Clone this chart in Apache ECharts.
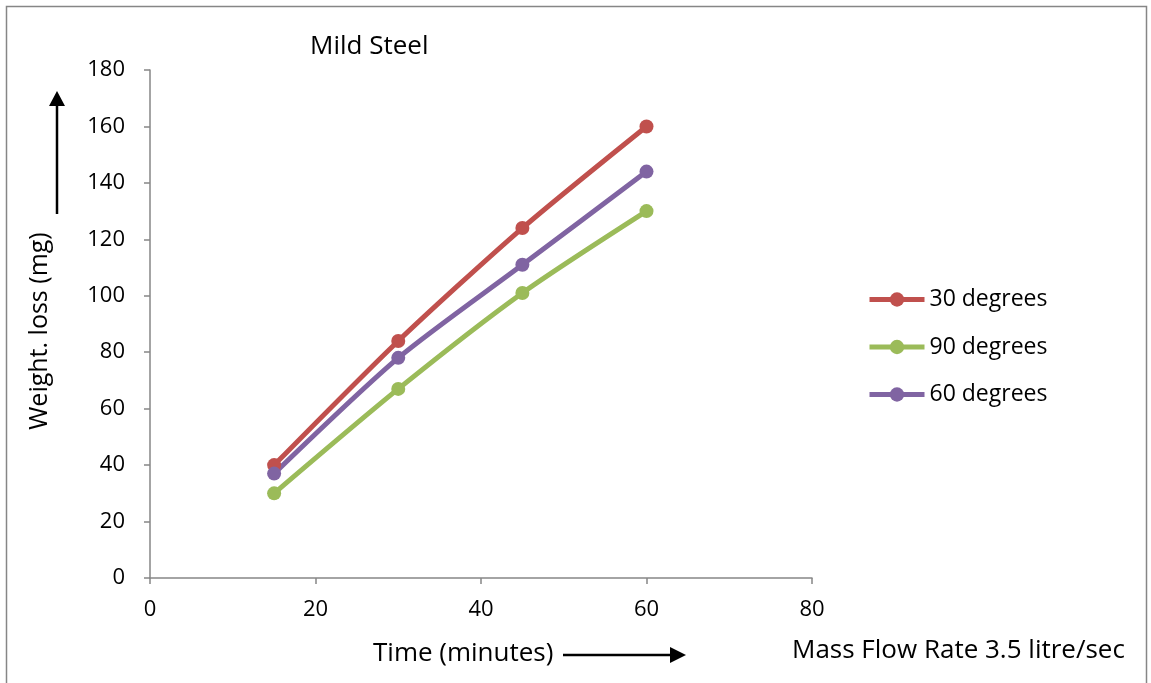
<!DOCTYPE html>
<html><head><meta charset="utf-8">
<script src="https://cdn.jsdelivr.net/npm/echarts@6/dist/echarts.min.js"></script>
<style>html,body{margin:0;padding:0;background:#fff}#c{width:1151px;height:683px}</style>
</head><body><div id="c"></div>
<script>
const xValues = [15, 30, 45, 60];
const seriesNames = ['30 degrees', '90 degrees', '60 degrees'];
const deg30 = [40, 84, 124, 160];
const deg90 = [30, 67, 101, 130];
const deg60 = [37, 78, 111, 144];
const colors = ['#C0504D', '#9BBB59', '#8064A2'];
const values = [deg30, deg90, deg60];
const FONT = 'Open Sans';

function txt(text, x, y, size, extra) {
  return Object.assign({type: 'text', x: x, y: y, silent: true,
    style: {text: text, fill: '#000', fontSize: size, fontFamily: FONT, align: 'left', verticalAlign: 'middle'}}, extra || {});
}

const chart = echarts.init(document.getElementById('c'), null, {renderer: 'canvas'});
const yLabel = txt('Weight. loss (mg)', 40, 331, 25, {rotation: Math.PI / 2});
yLabel.style.align = 'center';
chart.setOption({
  animation: false,
  backgroundColor: '#fff',
  textStyle: {fontFamily: FONT},
  grid: {left: 150, right: 339, top: 70, bottom: 105},
  xAxis: {
    type: 'value', min: 0, max: 80, interval: 20,
    axisLine: {lineStyle: {color: '#868686', width: 1.5}},
    axisTick: {show: true, length: 6, lineStyle: {color: '#868686', width: 1.5}},
    splitLine: {show: false},
    axisLabel: {color: '#000', fontSize: 22, fontFamily: FONT, margin: 21}
  },
  yAxis: {
    type: 'value', min: 0, max: 180, interval: 20,
    axisLine: {show: true, lineStyle: {color: '#868686', width: 1.5}},
    axisTick: {show: true, length: 6, lineStyle: {color: '#868686', width: 1.5}},
    splitLine: {show: false},
    axisLabel: {color: '#000', fontSize: 22, fontFamily: FONT, margin: 25}
  },
  legend: {
    orient: 'vertical', left: 862, top: 283,
    itemWidth: 55, itemHeight: 18, itemGap: 24.5,
    lineStyle: {width: 5},
    textStyle: {color: '#000', fontSize: 23, fontFamily: FONT},
    data: seriesNames
  },
  series: seriesNames.map((n, i) => ({
    name: n, type: 'line', smooth: 0.25,
    data: xValues.map((x, j) => [x, values[i][j]]),
    symbol: 'circle', symbolSize: 14,
    lineStyle: {color: colors[i], width: 5},
    itemStyle: {color: colors[i]}
  })),
  graphic: [
    {type: 'rect', silent: true, shape: {x: 6.5, y: 6.5, width: 1140, height: 700}, style: {fill: 'none', stroke: '#868686', lineWidth: 1.5}},
    txt('Mild Steel', 310, 47, 26),
    yLabel,
    {type: 'line', silent: true, shape: {x1: 57, y1: 214, x2: 57, y2: 104}, style: {stroke: '#000', lineWidth: 2.5}},
    {type: 'polygon', silent: true, shape: {points: [[57, 91], [49, 106], [65, 106]]}, style: {fill: '#000'}},
    txt('Time (minutes)', 373, 654, 26),
    {type: 'line', silent: true, shape: {x1: 563, y1: 655, x2: 672, y2: 655}, style: {stroke: '#000', lineWidth: 2.5}},
    {type: 'polygon', silent: true, shape: {points: [[686, 655], [670, 647], [670, 663]]}, style: {fill: '#000'}},
    txt('Mass Flow Rate 3.5 litre/sec', 792, 651, 26)
  ]
});
</script></body></html>
